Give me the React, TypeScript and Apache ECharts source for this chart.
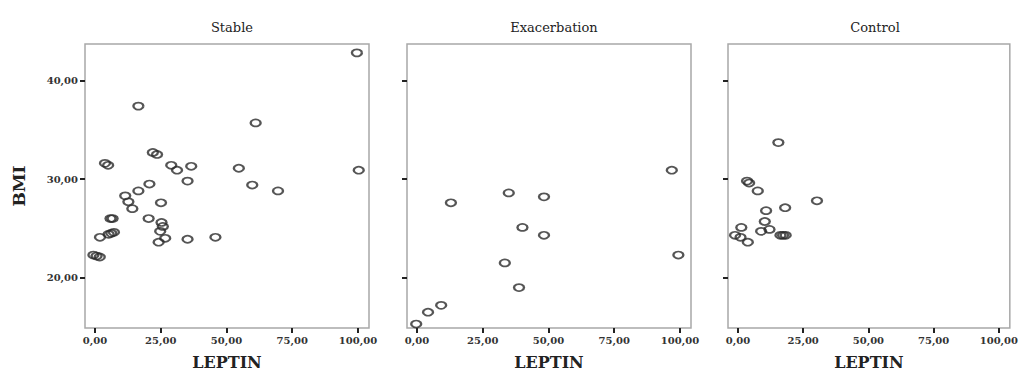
import React, { useEffect, useRef } from "react";
import * as echarts from "echarts";

const panelTitles = ["Stable", "Exacerbation", "Control"];
const xTicks = [0, 25, 50, 75, 100];
const yTicks = [20, 30, 40];

const stableLeptin = [99.6, 16.5, 61.1, 100.3, 22.0, 23.6, 3.8, 5.0, 29.0, 31.2, 36.6, 35.2, 54.7, 59.8, 69.6, 20.7, 16.5, 11.5, 12.7, 14.2, 25.1, 20.4, 5.9, 6.7, 25.3, 25.8, 24.8, 26.7, 24.2, 35.2, 45.8, 1.9, 5.2, 6.2, 7.2, -0.6, 0.6, 1.8];
const stableBmi = [42.8, 37.4, 35.7, 30.9, 32.7, 32.5, 31.6, 31.4, 31.4, 30.9, 31.3, 29.8, 31.1, 29.4, 28.8, 29.5, 28.8, 28.3, 27.7, 27.0, 27.6, 26.0, 26.0, 26.0, 25.6, 25.2, 24.7, 24.0, 23.6, 23.9, 24.1, 24.1, 24.4, 24.5, 24.6, 22.3, 22.2, 22.1];

const exacLeptin = [96.9, 99.4, 12.9, 34.9, 48.3, 40.1, 48.3, 33.4, 38.8, 9.2, 4.2, -0.3];
const exacBmi = [30.9, 22.3, 27.6, 28.6, 28.2, 25.1, 24.3, 21.5, 19.0, 17.2, 16.5, 15.3];

const controlLeptin = [15.5, 3.5, 4.3, 7.6, 30.3, 18.1, 10.8, 10.3, 12.1, 8.9, 1.3, -1.1, 1.0, 3.8, 16.3, 17.3, 18.3];
const controlBmi = [33.7, 29.8, 29.6, 28.8, 27.8, 27.1, 26.8, 25.7, 24.9, 24.7, 25.1, 24.3, 24.1, 23.6, 24.3, 24.3, 24.3];

const panels = [
  { x: stableLeptin, y: stableBmi },
  { x: exacLeptin, y: exacBmi },
  { x: controlLeptin, y: controlBmi },
];

const fmt = (v: number) => v.toFixed(2).replace(".", ",");

export default function App() {
  const ref = useRef<HTMLDivElement>(null);
  useEffect(() => {
    if (!ref.current) return;
    const chart = echarts.init(ref.current, null, { renderer: "svg" });
    const lefts = [85, 407, 728];
    const gw = 284;
    const serif = "DejaVu Serif";
    const option: any = {
      animation: false,
      backgroundColor: "#ffffff",
      title: panelTitles.map((t, i) => ({
        text: t,
        left: lefts[i] + gw / 2,
        top: 16,
        textAlign: "center",
        textStyle: { fontFamily: serif, fontSize: 13, fontWeight: "normal", color: "#222" },
      })),
      grid: lefts.map((l) => ({
        left: l,
        top: 44,
        width: gw,
        height: 284,
        show: true,
        borderColor: "#a8a8a8",
        borderWidth: 1.5,
        backgroundColor: "#ffffff",
      })),
      xAxis: lefts.map((_, i) => ({
        type: "value",
        gridIndex: i,
        min: -3.8,
        max: 104.2,
        name: "LEPTIN",
        nameLocation: "middle",
        nameGap: 26,
        nameTextStyle: { fontFamily: serif, fontSize: 16, fontWeight: "bold", color: "#222" },
        axisLine: { show: false, onZero: false },
        splitLine: { show: false },
        axisTick: { show: true, customValues: xTicks, length: 5, lineStyle: { color: "#222", width: 2 } },
        axisLabel: {
          customValues: xTicks,
          formatter: (v: number) => fmt(v),
          fontFamily: serif,
          fontSize: 10,
          fontWeight: "bold",
          color: "#333",
          margin: 7,
        },
      })),
      yAxis: lefts.map((_, i) => ({
        type: "value",
        gridIndex: i,
        min: 14.9,
        max: 43.7,
        name: i === 0 ? "BMI" : "",
        nameLocation: "middle",
        nameGap: 58,
        nameTextStyle: { fontFamily: serif, fontSize: 17, fontWeight: "bold", color: "#222" },
        axisLine: { show: false, onZero: false },
        splitLine: { show: false },
        axisTick: { show: true, customValues: yTicks, length: 5, lineStyle: { color: "#222", width: 2 } },
        axisLabel: {
          show: i === 0,
          customValues: yTicks,
          formatter: (v: number) => fmt(v),
          fontFamily: serif,
          fontSize: 10,
          fontWeight: "bold",
          color: "#333",
          margin: 7,
        },
      })),
      series: panels.map((p, i) => ({
        type: "scatter",
        xAxisIndex: i,
        yAxisIndex: i,
        data: p.x.map((v, k) => [v, p.y[k]]),
        symbol: "circle",
        symbolSize: [10, 7],
        itemStyle: { color: "rgba(255,255,255,0)", borderColor: "#2a2a2a", borderWidth: 2 },
      })),
    };
    chart.setOption(option);
    return () => chart.dispose();
  }, []);
  return (
    <div
      ref={ref}
      style={{ position: "fixed", left: 0, top: 0, width: 1021, height: 382 }}
    />
  );
}
